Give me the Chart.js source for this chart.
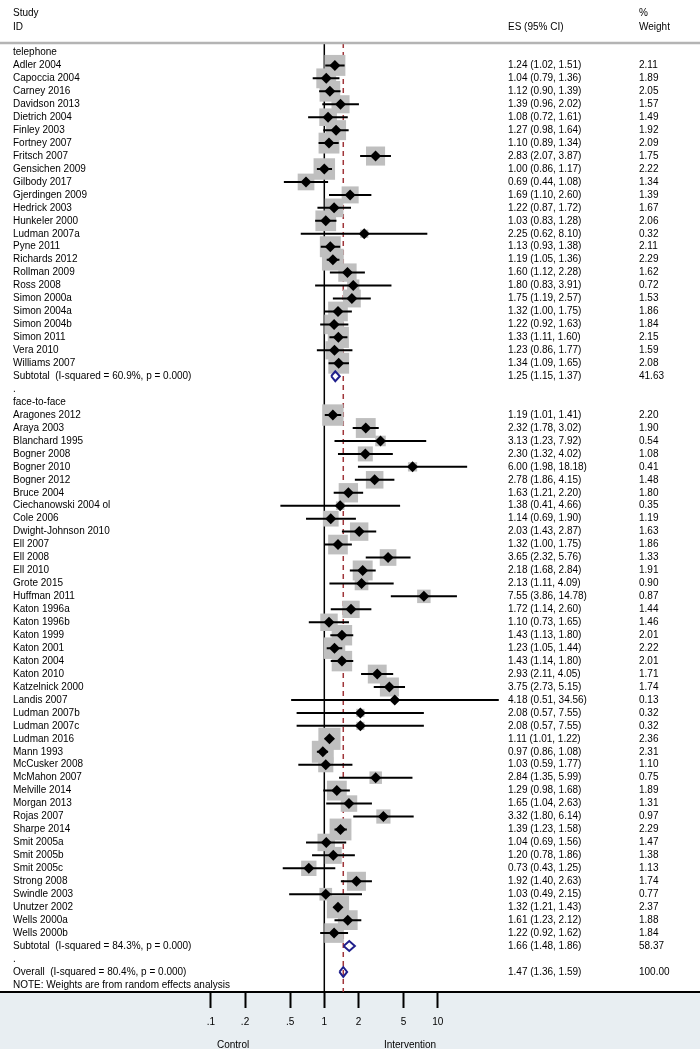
<!DOCTYPE html>
<html>
<head>
<meta charset="utf-8">
<script src="https://cdn.jsdelivr.net/npm/chart.js@4.4.1/dist/chart.umd.min.js"></script>
<style>
  html, body { margin: 0; padding: 0; background: #fff; }
  canvas { display: block; }
</style>
</head>
<body>
<canvas id="forest" width="700" height="1049"></canvas>
<script>
// telephone subgroup
var phoneStudies = ["Adler 2004", "Capoccia 2004", "Carney 2016", "Davidson 2013", "Dietrich 2004", "Finley 2003",
    "Fortney 2007", "Fritsch 2007", "Gensichen 2009", "Gilbody 2017", "Gjerdingen 2009", "Hedrick 2003",
    "Hunkeler 2000", "Ludman 2007a", "Pyne 2011", "Richards 2012", "Rollman 2009", "Ross 2008",
    "Simon 2000a", "Simon 2004a", "Simon 2004b", "Simon 2011", "Vera 2010", "Williams 2007"];
var phoneES = [1.24, 1.04, 1.12, 1.39, 1.08, 1.27, 1.10, 2.83, 1.00, 0.69, 1.69, 1.22,
    1.03, 2.25, 1.13, 1.19, 1.60, 1.80, 1.75, 1.32, 1.22, 1.33, 1.23, 1.34];
var phoneLo = [1.02, 0.79, 0.90, 0.96, 0.72, 0.98, 0.89, 2.07, 0.86, 0.44, 1.10, 0.87,
    0.83, 0.62, 0.93, 1.05, 1.12, 0.83, 1.19, 1.00, 0.92, 1.11, 0.86, 1.09];
var phoneHi = [1.51, 1.36, 1.39, 2.02, 1.61, 1.64, 1.34, 3.87, 1.17, 1.08, 2.60, 1.72,
    1.28, 8.10, 1.38, 1.36, 2.28, 3.91, 2.57, 1.75, 1.63, 1.60, 1.77, 1.65];
var phoneWeight = [2.11, 1.89, 2.05, 1.57, 1.49, 1.92, 2.09, 1.75, 2.22, 1.34, 1.39, 1.67,
    2.06, 0.32, 2.11, 2.29, 1.62, 0.72, 1.53, 1.86, 1.84, 2.15, 1.59, 2.08];

// face-to-face subgroup
var faceStudies = ["Aragones 2012", "Araya 2003", "Blanchard 1995", "Bogner 2008", "Bogner 2010", "Bogner 2012",
    "Bruce 2004", "Ciechanowski 2004 ol", "Cole 2006", "Dwight-Johnson 2010", "Ell 2007", "Ell 2008",
    "Ell 2010", "Grote 2015", "Huffman 2011", "Katon 1996a", "Katon 1996b", "Katon 1999", "Katon 2001",
    "Katon 2004", "Katon 2010", "Katzelnick 2000", "Landis 2007", "Ludman 2007b", "Ludman 2007c",
    "Ludman 2016", "Mann 1993", "McCusker 2008", "McMahon 2007", "Melville 2014", "Morgan 2013",
    "Rojas 2007", "Sharpe 2014", "Smit 2005a", "Smit 2005b", "Smit 2005c", "Strong 2008",
    "Swindle 2003", "Unutzer 2002", "Wells 2000a", "Wells 2000b"];
var faceES = [1.19, 2.32, 3.13, 2.30, 6.00, 2.78, 1.63, 1.38, 1.14, 2.03, 1.32, 3.65, 2.18, 2.13,
    7.55, 1.72, 1.10, 1.43, 1.23, 1.43, 2.93, 3.75, 4.18, 2.08, 2.08, 1.11, 0.97, 1.03, 2.84,
    1.29, 1.65, 3.32, 1.39, 1.04, 1.20, 0.73, 1.92, 1.03, 1.32, 1.61, 1.22];
var faceLo = [1.01, 1.78, 1.23, 1.32, 1.98, 1.86, 1.21, 0.41, 0.69, 1.43, 1.00, 2.32, 1.68, 1.11,
    3.86, 1.14, 0.73, 1.13, 1.05, 1.14, 2.11, 2.73, 0.51, 0.57, 0.57, 1.01, 0.86, 0.59, 1.35,
    0.98, 1.04, 1.80, 1.23, 0.69, 0.78, 0.43, 1.40, 0.49, 1.21, 1.23, 0.92];
var faceHi = [1.41, 3.02, 7.92, 4.02, 18.18, 4.15, 2.20, 4.66, 1.90, 2.87, 1.75, 5.76, 2.84, 4.09,
    14.78, 2.60, 1.65, 1.80, 1.44, 1.80, 4.05, 5.15, 34.56, 7.55, 7.55, 1.22, 1.08, 1.77, 5.99,
    1.68, 2.63, 6.14, 1.58, 1.56, 1.86, 1.25, 2.63, 2.15, 1.43, 2.12, 1.62];
var faceWeight = [2.20, 1.90, 0.54, 1.08, 0.41, 1.48, 1.80, 0.35, 1.19, 1.63, 1.86, 1.33, 1.91, 0.90,
    0.87, 1.44, 1.46, 2.01, 2.22, 2.01, 1.71, 1.74, 0.13, 0.32, 0.32, 2.36, 2.31, 1.10, 0.75,
    1.89, 1.31, 0.97, 2.29, 1.47, 1.38, 1.13, 1.74, 0.77, 2.37, 1.88, 1.84];

// pooled estimates
var groupNames = ["telephone", "face-to-face"];
var subtotalLabels = ["Subtotal  (I-squared = 60.9%, p = 0.000)", "Subtotal  (I-squared = 84.3%, p = 0.000)"];
var subtotalES = [1.25, 1.66];
var subtotalLo = [1.15, 1.48];
var subtotalHi = [1.37, 1.86];
var subtotalWeight = [41.63, 58.37];
var overallLabel = "Overall  (I-squared = 80.4%, p = 0.000)";
var overallES = 1.47, overallLo = 1.36, overallHi = 1.59, overallWeight = 100.00;

var tickValues = [0.1, 0.2, 0.5, 1, 2, 5, 10];
var tickLabels = [".1", ".2", ".5", "1", "2", "5", "10"];
var sideLabels = ["Control", "Intervention"];
var noteText = "NOTE: Weights are from random effects analysis";

// one entry per text line of the plot
var rows = [];
function addGroup(g, studies, es, lo, hi, wt) {
    rows.push({ text: groupNames[g] });
    studies.forEach(function (s, i) {
        rows.push({ text: s, es: es[i], lo: lo[i], hi: hi[i], w: wt[i], type: "study" });
    });
    rows.push({ text: subtotalLabels[g], es: subtotalES[g], lo: subtotalLo[g], hi: subtotalHi[g], w: subtotalWeight[g], type: "pooled" });
    rows.push({ text: "." });
}
addGroup(0, phoneStudies, phoneES, phoneLo, phoneHi, phoneWeight);
addGroup(1, faceStudies, faceES, faceLo, faceHi, faceWeight);
rows.push({ text: overallLabel, es: overallES, lo: overallLo, hi: overallHi, w: overallWeight, type: "pooled" });
rows.push({ text: noteText });
rows.forEach(function (r, i) { r.row = i; });

var studyRows = rows.filter(function (r) { return r.type === "study"; });
var pooledRows = rows.filter(function (r) { return r.type === "pooled"; });

var yMin = -0.73, yMax = rows.length - 0.45;

var boxData = studyRows.map(function (r) { return { x: r.es, y: r.row, w: r.w }; });
var pointData = studyRows.map(function (r) { return { x: r.es, y: r.row }; });
var ciData = [];
studyRows.forEach(function (r) {
    ciData.push({ x: r.lo, y: r.row }, { x: r.hi, y: r.row }, { x: r.es, y: NaN });
});
var pooledData = [];
pooledRows.forEach(function (r) {
    pooledData.push({ x: r.lo, y: r.row }, { x: r.es, y: r.row - 0.38 }, { x: r.hi, y: r.row },
        { x: r.es, y: r.row + 0.38 }, { x: r.lo, y: r.row }, { x: r.es, y: NaN });
});

var FONT = '10px Arial, "Liberation Sans", sans-serif';

var textPlugin = {
    id: "forestText",
    beforeDraw: function (chart) {
        var c = chart.ctx, a = chart.chartArea;
        c.save();
        c.fillStyle = "#ffffff";
        c.fillRect(0, 0, chart.width, chart.height);
        c.fillStyle = "#e8eef2";
        c.fillRect(0, a.bottom, chart.width, chart.height - a.bottom);
        c.restore();
    },
    afterDraw: function (chart) {
        var c = chart.ctx, a = chart.chartArea;
        var ys = chart.scales.y, xs = chart.scales.x;
        c.save();
        // header rule
        c.strokeStyle = "#b4b4b4";
        c.lineWidth = 2.5;
        c.beginPath();
        c.moveTo(0, a.top);
        c.lineTo(chart.width, a.top);
        c.stroke();

        c.font = FONT;
        c.fillStyle = "#000";
        c.textBaseline = "middle";
        c.textAlign = "left";
        c.fillText("Study", 13, 13);
        c.fillText("ID", 13, 27);
        c.fillText("ES (95% CI)", 508, 27);
        c.fillText("%", 639, 13);
        c.fillText("Weight", 639, 27);

        rows.forEach(function (r) {
            var y = ys.getPixelForValue(r.row);
            c.fillText(r.text, 13, y);
            if (r.es !== undefined) {
                c.fillText(r.es.toFixed(2) + " (" + r.lo.toFixed(2) + ", " + r.hi.toFixed(2) + ")", 508, y);
                c.fillText(r.w.toFixed(2), 639, y);
            }
        });

        c.textAlign = "center";
        c.fillText(sideLabels[0], xs.getPixelForValue(0.157), 1045);
        c.fillText(sideLabels[1], xs.getPixelForValue(5.7), 1045);
        c.restore();
    }
};

var chart = new Chart(document.getElementById("forest").getContext("2d"), {
    type: "scatter",
    data: {
        datasets: [
            {
                label: "Studies",
                data: pointData,
                pointStyle: "rectRot",
                pointRadius: 5.5,
                backgroundColor: "#000",
                borderWidth: 0,
                order: 0
            },
            {
                label: "Pooled",
                data: pooledData,
                showLine: true,
                pointRadius: 0,
                borderColor: "#1f1f8c",
                borderWidth: 2,
                order: 0
            },
            {
                label: "CI",
                data: ciData,
                showLine: true,
                pointRadius: 0,
                borderColor: "#000",
                borderWidth: 2,
                order: 1
            },
            {
                label: "Weight boxes",
                data: boxData,
                pointStyle: "rect",
                pointRadius: function (c) { return c.raw ? 10.2 * Math.sqrt(c.raw.w) : 0; },
                backgroundColor: "#bfbfbf",
                borderWidth: 0,
                order: 2
            },
            {
                label: "Null",
                data: [{ x: 1, y: yMin }, { x: 1, y: yMax }],
                showLine: true,
                pointRadius: 0,
                borderColor: "#000",
                borderWidth: 1.5,
                order: 3
            },
            {
                label: "Overall effect",
                data: [{ x: overallES, y: yMin }, { x: overallES, y: yMax }],
                showLine: true,
                pointRadius: 0,
                borderColor: "#a0353a",
                borderWidth: 1.5,
                borderDash: [5, 4],
                order: 3
            }
        ]
    },
    options: {
        responsive: false,
        animation: false,
        layout: { autoPadding: false, padding: { top: 43, left: 0, right: 0, bottom: 0 } },
        plugins: {
            legend: { display: false },
            tooltip: { enabled: false }
        },
        scales: {
            x: {
                type: "logarithmic",
                position: "bottom",
                min: 0.001381,
                max: 2056,
                afterBuildTicks: function (s) {
                    s.ticks = tickValues.map(function (v) { return { value: v }; });
                },
                afterFit: function (s) { s.height = 57; },
                ticks: {
                    autoSkip: false,
                    maxRotation: 0,
                    padding: 8,
                    color: "#000",
                    font: { family: 'Arial, "Liberation Sans", sans-serif', size: 10 },
                    callback: function (v, i) { return tickLabels[i]; }
                },
                grid: {
                    drawOnChartArea: false,
                    drawTicks: true,
                    tickLength: 16,
                    tickWidth: 2,
                    tickColor: "#000"
                },
                border: { display: true, color: "#000", width: 2 }
            },
            y: {
                type: "linear",
                display: false,
                reverse: true,
                min: yMin,
                max: yMax
            }
        }
    },
    plugins: [textPlugin]
});
</script>
</body>
</html>
